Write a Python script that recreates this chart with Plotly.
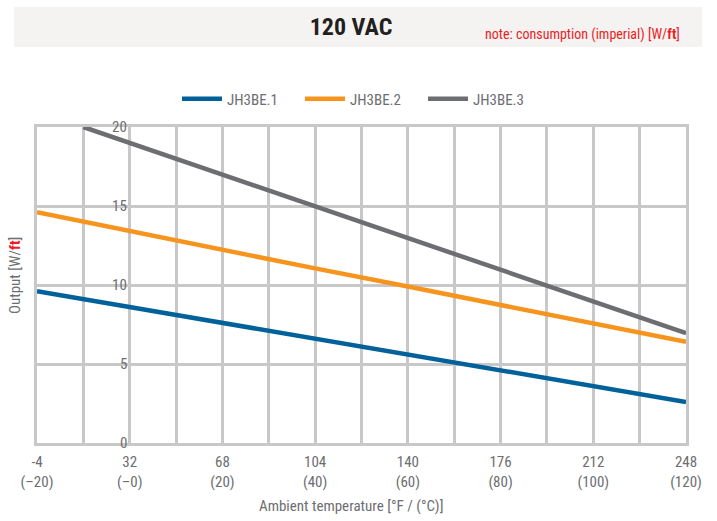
import plotly.graph_objects as go

# ---- data ----
temp_c = [-20, 0, 20, 40, 60, 80, 100, 120]
jh3be1 = [9.6, 8.6, 7.6, 6.6, 5.6, 4.6, 3.6, 2.6]
jh3be2 = [14.6, 13.4, 12.2, 11.05, 9.9, 8.75, 7.6, 6.4]
temp_c3 = [-10, 0, 20, 40, 60, 80, 100, 120]
jh3be3 = [20.0, 19.0, 17.0, 15.0, 13.0, 11.0, 9.0, 6.95]

tick_c = [-20, 0, 20, 40, 60, 80, 100, 120]
tick_f = ["-4", "32", "68", "104", "140", "176", "212", "248"]
tick_c_lbl = ["(–20)", "(–0)", "(20)", "(40)", "(60)", "(80)", "(100)", "(120)"]
y_ticks = [0, 5, 10, 15, 20]

series_names = ["JH3BE.1", "JH3BE.2", "JH3BE.3"]
colors = ["#00619b", "#f7941d", "#6d6e71"]

FONT = "Liberation Sans Narrow, Arial Narrow, Roboto Condensed, Liberation Sans, sans-serif"
GRID = "#c8c8c8"
TXT = "#6d6e71"
RED = "#ed1c24"

fig = go.Figure()
for name, xs, ys, c in [
    (series_names[0], temp_c, jh3be1, colors[0]),
    (series_names[1], temp_c, jh3be2, colors[1]),
    (series_names[2], temp_c3, jh3be3, colors[2]),
]:
    fig.add_trace(go.Scatter(x=xs, y=ys, mode="lines", name=name,
                             line=dict(color=c, width=4.5)))

W, H = 717, 521
L, R, T, B = 37, 31, 127, 78
pw, ph = W - L - R, H - T - B

def px(xp):
    return (xp - L) / pw

def py(yp):
    return (H - B - yp) / ph

fig.update_layout(
    width=W, height=H,
    margin=dict(l=L, r=R, t=T, b=B),
    plot_bgcolor="white", paper_bgcolor="white",
    font=dict(family=FONT, color=TXT, size=14),
    showlegend=True,
    legend=dict(orientation="h", x=px(177), xanchor="left", y=py(99), yanchor="middle",
                font=dict(size=15, color=TXT), entrywidth=68, itemwidth=40,
                bgcolor="rgba(0,0,0,0)"),
    title=dict(text="<b>120 VAC</b>", x=351 / W, xref="container", xanchor="center",
               y=1 - 27 / H, yref="container", yanchor="middle",
               font=dict(family=FONT, size=24, color="#231f20")),
)

fig.update_xaxes(
    range=[-20, 120], tickvals=tick_c,
    ticktext=[f"{f}<br>{c}" for f, c in zip(tick_f, tick_c_lbl)],
    showgrid=True, gridcolor=GRID, gridwidth=2.5,
    minor=dict(dtick=10, tick0=0, showgrid=True, gridcolor=GRID, gridwidth=2.5),
    showline=True, linecolor=GRID, linewidth=3, mirror=True,
    zeroline=False, ticks="outside", ticklen=3, tickcolor="rgba(0,0,0,0)",
    tickfont=dict(size=15, color=TXT),
)
fig.update_yaxes(
    range=[0, 20], tickvals=y_ticks, showticklabels=False,
    showgrid=True, gridcolor=GRID, gridwidth=2.5,
    showline=True, linecolor=GRID, linewidth=3, mirror=True, zeroline=False,
)

# title box background
fig.add_shape(type="rect", xref="paper", yref="paper",
              x0=px(14), x1=px(702), y0=py(47), y1=py(7),
              fillcolor="#f4f3f2", line=dict(width=0), layer="below")

# y tick labels placed at 0 °C line
for v in y_ticks:
    fig.add_annotation(x=0, y=v, xref="x", yref="y", text=str(v), showarrow=False,
                       xanchor="right", yanchor="middle", xshift=-1,
                       font=dict(size=15, color=TXT))

fig.add_annotation(x=px(682), y=py(34), xref="paper", yref="paper",
                   text="note: consumption (imperial) [W/<b>ft</b>]", showarrow=False,
                   xanchor="right", yanchor="middle", font=dict(size=14, color=RED))

fig.add_annotation(x=px(15), y=py(276), xref="paper", yref="paper",
                   text=f"Output [W/<b><span style='color:{RED}'>ft</span></b>]",
                   textangle=-90, showarrow=False, xanchor="center", yanchor="middle",
                   font=dict(size=15, color=TXT))

fig.add_annotation(x=px(351), y=py(506), xref="paper", yref="paper",
                   text="Ambient temperature [°F / (°C)]", showarrow=False,
                   xanchor="center", yanchor="middle", font=dict(size=15, color=TXT))

fig.write_html("out.html", config={"displayModeBar": False},
               post_script="document.body.style.margin='0';document.body.style.padding='0';")
